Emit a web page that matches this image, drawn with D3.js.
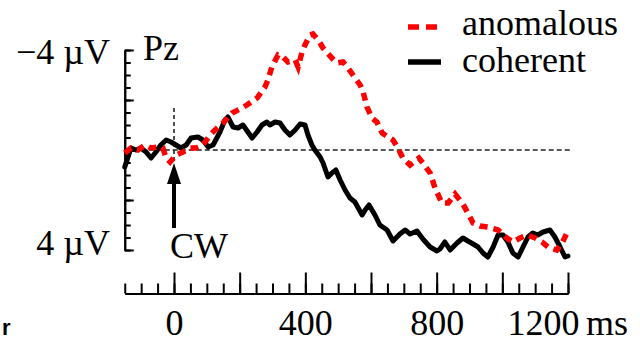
<!DOCTYPE html>
<html>
<head>
<meta charset="utf-8">
<script src="https://cdn.jsdelivr.net/npm/d3@7/dist/d3.min.js"></script>
<style>
  html, body { margin: 0; padding: 0; background: #fff; }
  svg { display: block; }
  text { font-family: "Liberation Serif", "Times New Roman", serif; fill: #000; }
</style>
</head>
<body>
<svg id="chart" width="640" height="342"></svg>
<script>
// ---- data (time in ms, amplitude in µV; negative plotted upward) ----
const coherentMs = [-150,-131,-116,-101,-85,-70,-55,-40,-24,-9,6,21,37,52,73,88,104,119,140,155,164,180,195,210,225,238,253,268,283,292,308,323,338,353,369,384,399,408,420,429,445,454,469,481,493,506,521,536,551,573,582,594,612,627,649,667,688,704,719,740,758,780,801,810,825,841,862,880,895,911,926,941,956,972,987,1002,1017,1032,1048,1063,1078,1093,1108,1124,1145,1160,1176,1191,1200];
const coherentUV = [0.68,-0.08,0,-0.08,0.08,0.32,0.08,-0.2,-0.4,-0.32,-0.2,-0.08,-0.2,-0.48,-0.52,-0.4,-0.12,-0.2,-0.72,-1.2,-1.32,-0.92,-0.88,-1.0,-0.72,-0.48,-0.72,-1.0,-1.12,-1.0,-1.12,-1.08,-0.8,-0.6,-0.8,-1.04,-1.0,-0.6,-0.2,0,0.28,0.52,1.08,0.92,0.8,1.2,1.6,1.92,2.08,2.6,2.4,2.2,2.6,3.0,3.2,3.64,3.36,3.2,3.36,3.24,3.56,3.88,4.04,3.96,3.68,4.0,3.72,3.52,3.64,3.76,3.88,4.12,4.28,3.88,3.4,3.4,3.68,4.12,4.28,3.88,3.48,3.32,3.4,3.28,3.2,3.48,3.88,4.28,4.24];

const anomalousMs = [-150,-131,-110,-88,-70,-49,-34,-24,-12,6,27,49,67,88,110,125,149,177,207,222,253,277,286,298,317,332,347,369,378,390,399,414,423,439,454,481,496,515,530,545,567,576,588,603,618,634,652,667,682,697,719,746,758,780,795,816,835,856,880,895,911,932,956,987,1014,1032,1054,1075,1100,1121,1139,1166,1182,1197];
const anomalousUV = [0.12,-0.08,0,-0.2,-0.08,-0.12,-0.08,0.32,0.48,0.2,0.08,-0.08,-0.08,-0.2,-0.6,-0.8,-1.08,-1.48,-1.68,-1.8,-2.08,-2.52,-2.8,-3.32,-3.8,-3.72,-3.52,-3.6,-3.32,-3.92,-4.2,-4.6,-4.64,-4.4,-4.08,-3.68,-3.48,-3.52,-3.28,-3.0,-2.6,-2.32,-1.72,-1.28,-1.12,-0.68,-0.52,-0.4,-0.08,0.32,0.6,0.32,0.52,0.92,1.52,2.12,2.12,1.76,2.16,2.52,2.92,3.04,3.08,3.2,3.52,3.68,3.52,3.4,3.52,3.68,3.88,4.0,3.72,3.32];

const seriesNames = ["anomalous", "coherent"];
const xTickLabels = [0, 400, 800, 1200];
const xMinorTicks = d3.range(-150, 1201, 50);
const xMajorTicks = [0, 200, 400, 600, 800, 1000, 1200];
const yMinorTicks = d3.range(-4, 4.01, 0.5);
const yMajorTicks = [-4, -2, 0, 2, 4];
const yLabels = ["\u22124 \u00b5V", "4 \u00b5V"];
const yLabelValues = [-4, 4];
const channel = "Pz";
const eventLabel = "CW";
const unitLabel = "ms";

// ---- drawing ----
const svg = d3.select("#chart");
const x = d3.scaleLinear().domain([-150, 1200]).range([124.75, 568]);
const y = d3.scaleLinear().domain([-4, 4]).range([50, 250]);
const xAxisY = 293.5;
const FS = 36;

// y axis
const yAxG = svg.append("g").attr("transform", `translate(${x(-150)},0)`);
yAxG.append("g").call(d3.axisRight(y).tickValues(yMinorTicks).tickSize(6).tickSizeOuter(0).tickFormat(""));
yAxG.append("g").call(d3.axisRight(y).tickValues(yMajorTicks).tickSize(9).tickSizeOuter(0).tickFormat(""));
yAxG.selectAll("path,line").attr("stroke", "#000").attr("stroke-width", 2);

// x axis
const xAxG = svg.append("g").attr("transform", `translate(0,${xAxisY})`);
xAxG.append("g").call(d3.axisTop(x).tickValues(xMinorTicks).tickSize(10).tickSizeOuter(0).tickFormat(""));
xAxG.append("g").call(d3.axisTop(x).tickValues(xMajorTicks).tickSize(21).tickSizeOuter(0).tickFormat(""));
xAxG.selectAll("path,line").attr("stroke", "#000").attr("stroke-width", 2);

const xLab = svg.append("g").attr("transform", `translate(0,${xAxisY})`)
  .call(d3.axisBottom(x).tickValues(xTickLabels).tickSize(0).tickFormat(d3.format("d")));
xLab.select(".domain").remove();
xLab.selectAll("text")
  .attr("y", 0).attr("dy", null)
  .attr("transform", "translate(0,41)")
  .attr("font-size", FS)
  .attr("font-family", "Liberation Serif, Times New Roman, serif")
  .attr("fill", "#000");
xLab.selectAll(".tick").filter(d => d === 1200).select("text")
  .attr("text-anchor", "end").attr("x", 11);
svg.append("text").attr("x", x(1200) + 18).attr("y", xAxisY + 41)
  .attr("font-size", FS).text(unitLabel);

// zero line
svg.append("line")
  .attr("x1", x(-150)).attr("x2", 572)
  .attr("y1", y(0)).attr("y2", y(0))
  .attr("stroke", "#222").attr("stroke-width", 1.6).attr("stroke-dasharray", "5,3");

// onset dashed line
svg.append("line")
  .attr("x1", x(0)).attr("x2", x(0))
  .attr("y1", 108).attr("y2", 162)
  .attr("stroke", "#222").attr("stroke-width", 1.6).attr("stroke-dasharray", "4,3");

// arrow
svg.append("line")
  .attr("x1", x(0)).attr("x2", x(0)).attr("y1", 228).attr("y2", 180)
  .attr("stroke", "#000").attr("stroke-width", 4);
svg.append("path")
  .attr("d", `M${x(0)},163 L${x(0) - 7},184 L${x(0) + 7},184 Z`)
  .attr("fill", "#000");
svg.append("text").attr("x", 170).attr("y", 258).attr("font-size", FS).text(eventLabel);

// curves
const line = d3.line().x(d => x(d[0])).y(d => y(d[1]));
svg.append("path")
  .datum(d3.zip(coherentMs, coherentUV))
  .attr("d", line).attr("fill", "none")
  .attr("stroke", "#000").attr("stroke-width", 5)
  .attr("stroke-linejoin", "round").attr("stroke-linecap", "round");
svg.append("path")
  .datum(d3.zip(anomalousMs, anomalousUV))
  .attr("d", line).attr("fill", "none")
  .attr("stroke", "#ff0000").attr("stroke-width", 5.5)
  .attr("stroke-dasharray", "8,6");

// y labels
svg.selectAll("text.ylab").data(yLabelValues).join("text")
  .attr("class", "ylab")
  .attr("x", 110)
  .attr("y", d => d < 0 ? y(d) + 14 : y(d) + 5)
  .attr("text-anchor", "end")
  .attr("font-size", FS)
  .text((d, i) => yLabels[i]);

// channel label
svg.append("text").attr("x", 143).attr("y", 60).attr("font-size", FS).text(channel);

// legend
const lg = svg.append("g");
lg.append("line").attr("x1", 408).attr("x2", 437).attr("y1", 27).attr("y2", 27)
  .attr("stroke", "#ff0000").attr("stroke-width", 5.5).attr("stroke-dasharray", "11,7");
lg.append("line").attr("x1", 408).attr("x2", 441).attr("y1", 62).attr("y2", 62)
  .attr("stroke", "#000").attr("stroke-width", 5.5);
lg.append("text").attr("x", 462).attr("y", 35).attr("font-size", FS).text(seriesNames[0]);
lg.append("text").attr("x", 462).attr("y", 72).attr("font-size", FS).text(seriesNames[1]);

// panel letter (partially visible in the reference)
svg.append("text").attr("x", 2).attr("y", 335)
  .style("font-family", "'Liberation Sans', Arial, sans-serif")
  .style("font-weight", "bold").style("font-size", "22px").text("r");
</script>
</body>
</html>
